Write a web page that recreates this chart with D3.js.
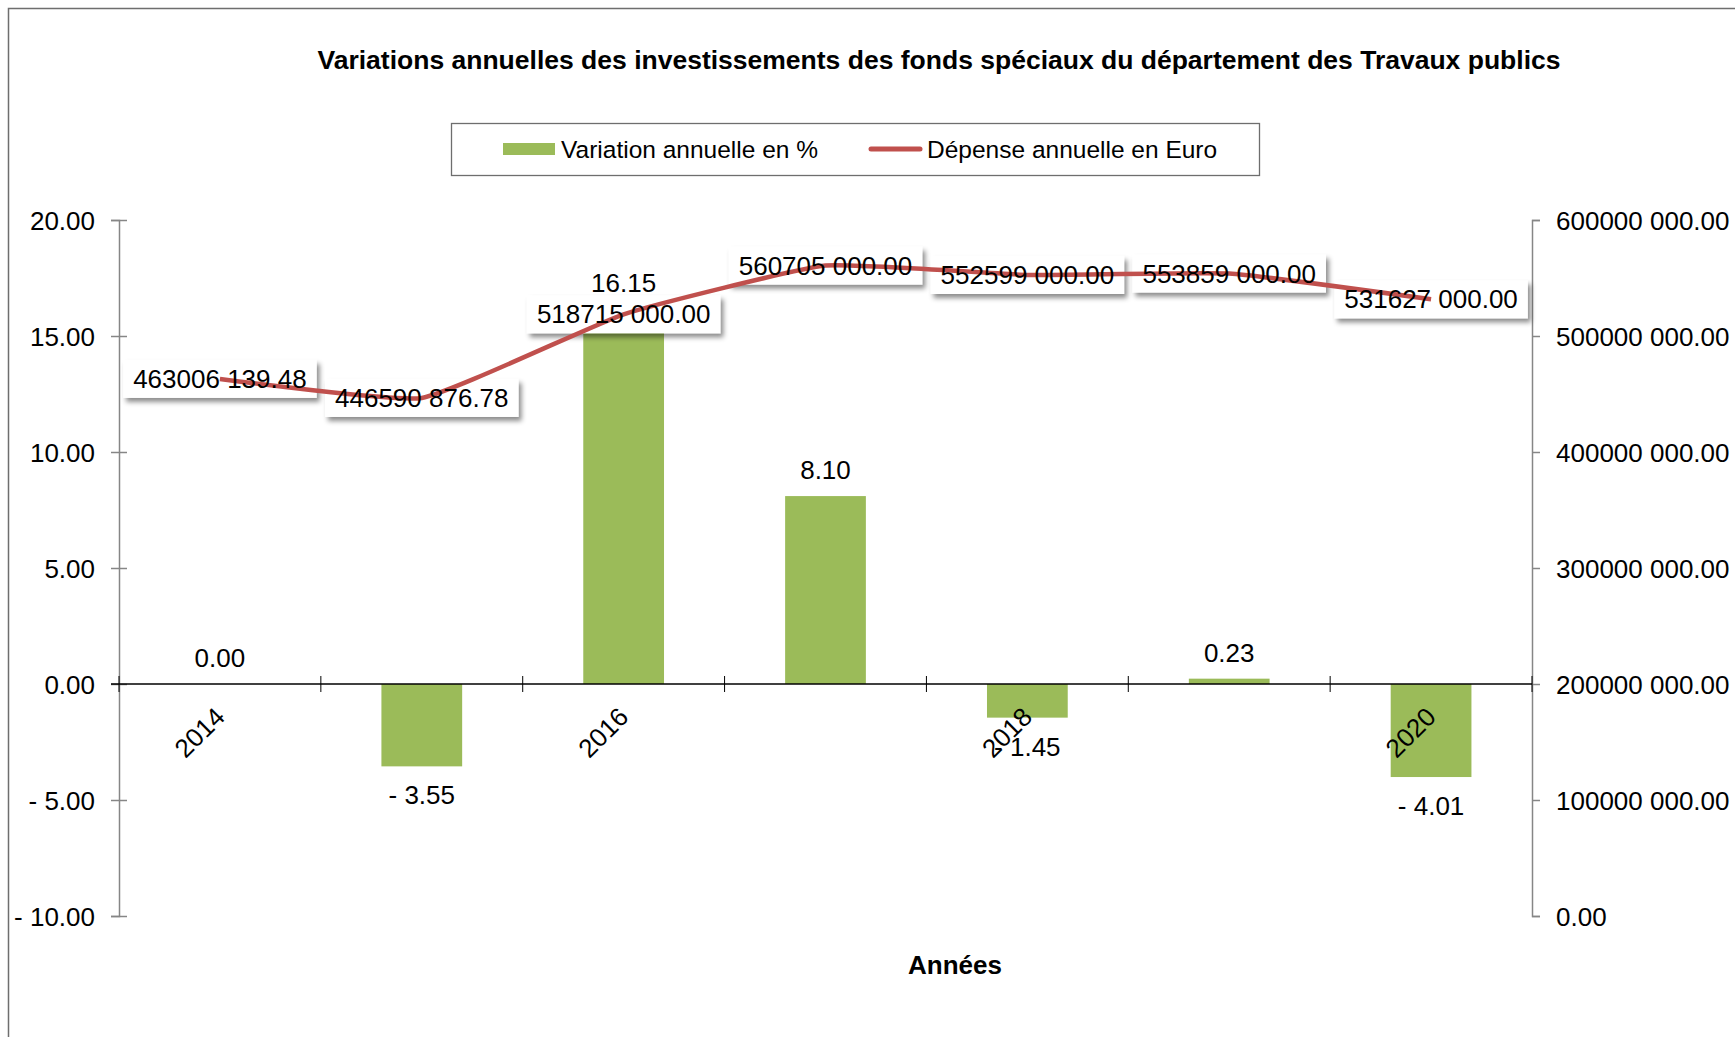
<!DOCTYPE html>
<html>
<head>
<meta charset="utf-8">
<script src="https://cdn.jsdelivr.net/npm/d3@7"></script>
<style>
  body { margin: 0; background: #fff; }
  svg { display: block; font-family: "Liberation Sans", Arial, sans-serif; }
</style>
</head>
<body>
<div id="chart"></div>
<script>
// Data
const years = ["2014", "2015", "2016", "2017", "2018", "2019", "2020"];
const variation = [0.00, -3.55, 16.15, 8.10, -1.45, 0.23, -4.01];
const depense = [463006139.48, 446590876.78, 518715000.00, 560705000.00, 552599000.00, 553859000.00, 531627000.00];
const leftTicks = [-10, -5, 0, 5, 10, 15, 20];
const rightTicks = [0, 100000000, 200000000, 300000000, 400000000, 500000000, 600000000];
const yearLabels = ["2014", "2016", "2018", "2020"];

const titleText = "Variations annuelles des investissements des fonds spéciaux du département des Travaux publics";
const seriesNames = ["Variation annuelle en %", "Dépense annuelle en Euro"];

// Dimensions
const W = 1735, H = 1037;
const plot = { left: 119, right: 1532, top: 220, bottom: 916 };
const green = "#9BBB59", red = "#C0504D", axisGray = "#868686";

// number format: "- 3.55", "463006 139.48"
function fmt(v) {
    const s = Math.abs(v).toFixed(2);
    let [ip, dp] = s.split(".");
    if (ip.length > 3) ip = ip.slice(0, ip.length - 3) + " " + ip.slice(-3);
    return (v < 0 ? "- " : "") + ip + "." + dp;
}

const svg = d3.select("#chart").append("svg")
    .attr("width", W)
    .attr("height", H);

const defs = svg.append("defs");
const shadow = defs.append("filter").attr("id", "shadow")
    .attr("x", "-20%").attr("y", "-40%").attr("width", "150%").attr("height", "200%");
shadow.append("feDropShadow")
    .attr("dx", 3).attr("dy", 4).attr("stdDeviation", 2.5)
    .attr("flood-color", "#000").attr("flood-opacity", 0.45);

// Outer border
svg.append("rect")
    .attr("x", 8.5).attr("y", 8.5)
    .attr("width", W + 20).attr("height", H + 20)
    .attr("fill", "none").attr("stroke", "#6e6e6e").attr("stroke-width", 1.5);

// Title
svg.append("text")
    .attr("x", 939).attr("y", 69)
    .attr("text-anchor", "middle")
    .style("font-size", "26.5px").style("font-weight", "bold")
    .text(titleText);

// Scales
const x = d3.scaleBand()
    .domain(years)
    .range([plot.left, plot.right])
    .paddingInner(0).paddingOuter(0);

const yL = d3.scaleLinear().domain([-10, 20]).range([plot.bottom, plot.top]);
const yR = d3.scaleLinear().domain([0, 600000000]).range([plot.bottom, plot.top]);

// Left axis
const gL = svg.append("g")
    .attr("transform", `translate(${plot.left},0)`)
    .call(d3.axisLeft(yL).tickValues(leftTicks).tickFormat(fmt).tickSize(8).tickPadding(16));
gL.select(".domain").attr("stroke", axisGray).attr("stroke-width", 1.5);
gL.selectAll(".tick line").attr("stroke", axisGray).attr("stroke-width", 1.5).attr("x2", 8).attr("x1", -8);
gL.selectAll(".tick text").style("font-size", "26px").attr("fill", "#000").attr("dy", "0.35em").attr("x", -24);

// Right axis
const gR = svg.append("g")
    .attr("transform", `translate(${plot.right},0)`)
    .call(d3.axisRight(yR).tickValues(rightTicks).tickFormat(fmt).tickSize(8).tickPadding(16));
gR.select(".domain").attr("stroke", axisGray).attr("stroke-width", 1.5);
gR.selectAll(".tick line").attr("stroke", axisGray).attr("stroke-width", 1.5);
gR.selectAll(".tick text").style("font-size", "26px").attr("fill", "#000").attr("dy", "0.35em");

// Bars
svg.selectAll(".bar")
    .data(variation)
    .enter().append("rect")
    .attr("class", "bar")
    .attr("x", (d, i) => x(years[i]) + x.bandwidth() * 0.3)
    .attr("width", x.bandwidth() * 0.4)
    .attr("y", d => yL(Math.max(0, d)))
    .attr("height", d => Math.abs(yL(d) - yL(0)))
    .attr("fill", green);

// Category axis at zero
const gX = svg.append("g")
    .attr("transform", `translate(0,${yL(0)})`);
gX.append("line")
    .attr("x1", plot.left - 8).attr("x2", plot.right)
    .attr("stroke", "#000").attr("stroke-width", 1.3);
const bounds = years.map(y => x(y)).concat([plot.right]);
gX.selectAll(".xt")
    .data(bounds)
    .enter().append("line")
    .attr("class", "xt")
    .attr("x1", d => d).attr("x2", d => d)
    .attr("y1", -8).attr("y2", 8)
    .attr("stroke", "#000").attr("stroke-width", 1);
gX.selectAll(".xl")
    .data(yearLabels)
    .enter().append("text")
    .attr("class", "xl")
    .attr("text-anchor", "end")
    .attr("dy", "0.35em")
    .attr("transform", d => `translate(${x(d) + x.bandwidth() / 2},${28}) rotate(-45)`)
    .style("font-size", "26px")
    .text(d => d);

// Bar value labels
svg.selectAll(".blabel")
    .data(variation)
    .enter().append("text")
    .attr("class", "blabel")
    .attr("text-anchor", "middle")
    .attr("x", (d, i) => x(years[i]) + x.bandwidth() / 2)
    .attr("y", d => d >= 0 ? yL(d) - 26 : yL(d) + 29)
    .attr("dy", "0.35em")
    .style("font-size", "26px")
    .text(fmt);

// Line label boxes (under the line)
const cx = (i) => x(years[i]) + x.bandwidth() / 2;
const boxes = svg.append("g");

// Line
const line = d3.line()
    .x((d, i) => cx(i))
    .y(d => yR(d))
    .curve(d3.curveCardinal.tension(0.6));

svg.append("path")
    .datum(depense)
    .attr("d", line)
    .attr("fill", "none")
    .attr("stroke", red)
    .attr("stroke-width", 4.5)
    .attr("stroke-linejoin", "round");

// Line labels text
const lt = svg.selectAll(".llabel")
    .data(depense)
    .enter().append("text")
    .attr("class", "llabel")
    .attr("text-anchor", "middle")
    .attr("x", (d, i) => cx(i))
    .attr("y", d => yR(d))
    .attr("dy", "0.35em")
    .style("font-size", "26px")
    .text(fmt);

lt.each(function(d, i) {
    const w = this.getComputedTextLength() + 20;
    boxes.append("rect")
        .attr("x", cx(i) - w / 2)
        .attr("y", yR(d) - 19)
        .attr("width", w)
        .attr("height", 38)
        .attr("fill", "#fff")
        .attr("filter", "url(#shadow)");
});

// Legend
const lg = svg.append("g");
lg.append("rect")
    .attr("x", 451.5).attr("y", 123.5)
    .attr("width", 808).attr("height", 52)
    .attr("fill", "#fff").attr("stroke", "#6e6e6e").attr("stroke-width", 1.3);
lg.append("rect")
    .attr("x", 503).attr("y", 143)
    .attr("width", 52).attr("height", 12)
    .attr("fill", green);
lg.append("text")
    .attr("x", 561).attr("y", 149).attr("dy", "0.35em")
    .style("font-size", "24.5px")
    .text(seriesNames[0]);
lg.append("line")
    .attr("x1", 871).attr("x2", 920)
    .attr("y1", 149).attr("y2", 149)
    .attr("stroke", red).attr("stroke-width", 5).attr("stroke-linecap", "round");
lg.append("text")
    .attr("x", 927).attr("y", 149).attr("dy", "0.35em")
    .style("font-size", "24.5px")
    .text(seriesNames[1]);

// Axis title
svg.append("text")
    .attr("x", 955).attr("y", 965).attr("dy", "0.35em")
    .attr("text-anchor", "middle")
    .style("font-size", "26px").style("font-weight", "bold")
    .text("Années");
</script>
</body>
</html>
